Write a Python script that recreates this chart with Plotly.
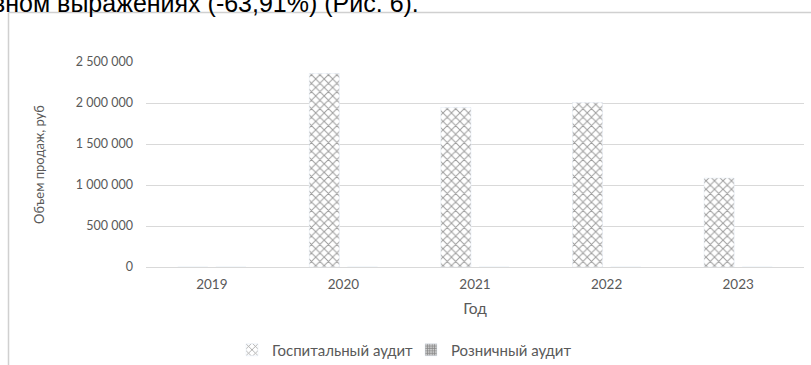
import plotly.graph_objects as go

# Sales volume by year, roubles
years = ["2019", "2020", "2021", "2022", "2023"]
hospital_audit = [0, 2360000, 1945000, 2005000, 1085000]
retail_audit = [0, 0, 0, 0, 0]
y_ticks = [0, 500000, 1000000, 1500000, 2000000, 2500000]

W, H = 811, 365
L, R, T, B = 146, 7, 62, 98
pw, ph = W - L - R, H - T - B


def px_x(x):
    return (x - L) / pw


def px_y(y):
    return (H - B - y) / ph


fig = go.Figure()
fig.add_bar(
    x=years, y=hospital_audit, name="Госпитальный аудит",
    marker=dict(color="white",
                pattern=dict(shape="x", size=6, solidity=0.3,
                             fgcolor="#3a3a3a", bgcolor="white")),
)
fig.add_bar(
    x=years, y=retail_audit, name="Розничный аудит",
    marker=dict(color="white",
                pattern=dict(shape=".", size=3, solidity=0.7,
                             fgcolor="#111111", bgcolor="white")),
)

grey = "#595959"
fig.update_layout(
    width=W, height=H,
    margin=dict(l=L, r=R, t=T, b=B, autoexpand=False),
    paper_bgcolor="white", plot_bgcolor="white",
    barmode="group", bargap=0.42, bargroupgap=0.21,
    separators=", ",
    font=dict(family="Lato", size=12, color=grey),
    showlegend=True,
    legend=dict(orientation="h", x=px_x(232), xanchor="left", y=px_y(350),
                yanchor="middle", font=dict(size=15, color=grey),
                itemwidth=30, entrywidth=134, entrywidthmode="pixels",
                tracegroupgap=0),
    xaxis=dict(showgrid=False, showline=False, ticks="",
               ticklabelstandoff=7,
               tickfont=dict(size=13.5, color=grey),
               title=dict(text="Год", font=dict(size=15.5, color=grey), standoff=12)),
    yaxis=dict(range=[0, 2500000], tickvals=y_ticks, tickformat=",d",
               showgrid=True, gridcolor="#d9d9d9", gridwidth=1,
               zeroline=True, zerolinecolor="#d9d9d9", zerolinewidth=1,
               showline=False, ticks="", ticklabelstandoff=12,
               tickfont=dict(size=12.5, color=grey),
               title=dict(text="Объем продаж, руб", font=dict(size=13, color=grey),
                          standoff=28)),
    shapes=[
        dict(type="line", xref="paper", yref="paper",
             x0=px_x(8.5), x1=px_x(8.5), y0=px_y(12.5), y1=px_y(370),
             line=dict(color="#d0d0d0", width=1.5)),
        dict(type="line", xref="paper", yref="paper",
             x0=px_x(8.5), x1=px_x(815), y0=px_y(12.5), y1=px_y(12.5),
             line=dict(color="#d0d0d0", width=1.5)),
    ],
    annotations=[
        dict(text="вном выражениях (-63,91%) (Рис. 6).", xref="paper", yref="paper",
             x=px_x(-10), y=px_y(3), xanchor="left", yanchor="middle",
             showarrow=False,
             font=dict(family="Liberation Sans", size=25, color="black")),
    ],
)

fig.write_html("out.html")
